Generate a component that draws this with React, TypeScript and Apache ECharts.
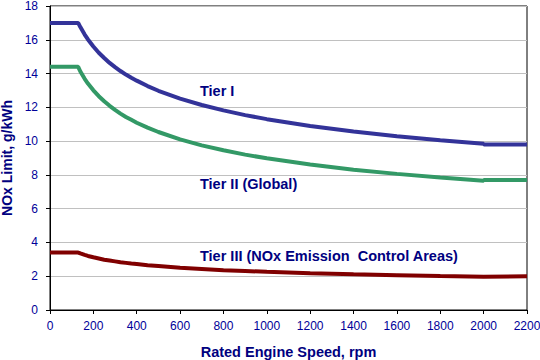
import React, { useEffect, useRef } from "react";
import * as echarts from "echarts";

const rpm = [0, 130, 140, 160, 175, 200, 225, 250, 275, 300, 325, 350, 375, 400, 450, 500, 600, 700, 800, 900, 1000, 1200, 1400, 1600, 1800, 2000, 2001, 2200];
const tierI = [17.0, 17.0, 16.75, 16.31, 16.02, 15.6, 15.23, 14.92, 14.63, 14.38, 14.15, 13.94, 13.75, 13.58, 13.26, 12.98, 12.52, 12.14, 11.82, 11.54, 11.3, 10.9, 10.57, 10.29, 10.05, 9.84, 9.8, 9.8];
const tierII = [14.4, 14.4, 14.12, 13.69, 13.41, 13.01, 12.66, 12.36, 12.09, 11.85, 11.63, 11.43, 11.26, 11.09, 10.8, 10.54, 10.1, 9.75, 9.46, 9.2, 8.98, 8.62, 8.31, 8.06, 7.85, 7.66, 7.7, 7.7];
const tierIII = [3.4, 3.4, 3.35, 3.26, 3.2, 3.12, 3.05, 2.98, 2.93, 2.88, 2.83, 2.79, 2.75, 2.72, 2.65, 2.6, 2.5, 2.43, 2.36, 2.31, 2.26, 2.18, 2.11, 2.06, 2.01, 1.97, 2.0, 2.0];

const seriesNames = ["Tier I", "Tier II (Global)", "Tier III (NOx Emission  Control Areas)"];
const seriesColors = ["#333399", "#339966", "#800000"];

const FONT = "Arial, 'Liberation Sans', sans-serif";
const NAVY = "#000080";

export default function App() {
  const ref = useRef<HTMLDivElement>(null);
  useEffect(() => {
    const chart = echarts.init(ref.current!, null, { renderer: "svg" });
    const mk = (vals: number[]) => rpm.map((x, i) => [x, vals[i]]);
    const data = [mk(tierI), mk(tierII), mk(tierIII)];
    chart.setOption({
      animation: false,
      backgroundColor: "#ffffff",
      grid: {
        left: 50, top: 6, right: 13, bottom: 50,
        containLabel: false, outerBoundsMode: "none",
        show: true, borderColor: "#000000", borderWidth: 1, backgroundColor: "transparent",
      },
      xAxis: {
        type: "value", min: 0, max: 2200, interval: 200,
        name: "Rated Engine Speed, rpm", nameLocation: "middle", nameGap: 34,
        nameTextStyle: { fontFamily: FONT, fontSize: 14.5, fontWeight: "bold", color: NAVY },
        axisLine: { show: true, lineStyle: { color: "#000000", width: 1 } },
        axisTick: { show: true, inside: false, length: 4, lineStyle: { color: "#000000" } },
        axisLabel: { fontFamily: FONT, fontSize: 12, color: "#000099", margin: 10, formatter: (v: number) => String(v) },
        splitLine: { show: false },
      },
      yAxis: {
        type: "value", min: 0, max: 18, interval: 2,
        name: "NOx Limit, g/kWh", nameLocation: "middle", nameGap: 34,
        nameTextStyle: { fontFamily: FONT, fontSize: 14, fontWeight: "bold", color: NAVY },
        axisLine: { show: true, lineStyle: { color: "#000000", width: 1 } },
        axisTick: { show: true, inside: false, length: 4, lineStyle: { color: "#000000" } },
        axisLabel: { fontFamily: FONT, fontSize: 12, color: "#000099", margin: 12, formatter: (v: number) => String(v) },
        splitLine: { show: true, lineStyle: { color: "#c0c0c0", width: 1 } },
      },
      series: data.map((d, i) => ({
        name: seriesNames[i],
        type: "line",
        data: d,
        showSymbol: false,
        symbol: "none",
        lineStyle: { color: seriesColors[i], width: 4 },
        z: 3,
      })),
      graphic: [
        { type: "text", x: 200, y: 91, style: { text: seriesNames[0], fontFamily: FONT, fontSize: 14.5, fontWeight: "bold", fill: NAVY, verticalAlign: "middle" } },
        { type: "text", x: 200, y: 184, style: { text: seriesNames[1], fontFamily: FONT, fontSize: 14.5, fontWeight: "bold", fill: NAVY, verticalAlign: "middle" } },
        { type: "text", x: 200, y: 256, style: { text: seriesNames[2], fontFamily: FONT, fontSize: 14.5, fontWeight: "bold", fill: NAVY, verticalAlign: "middle" } },
      ],
    });
    return () => chart.dispose();
  }, []);
  return <div ref={ref} style={{ width: 540, height: 360, position: "absolute", left: 0, top: 0 }} />;
}
